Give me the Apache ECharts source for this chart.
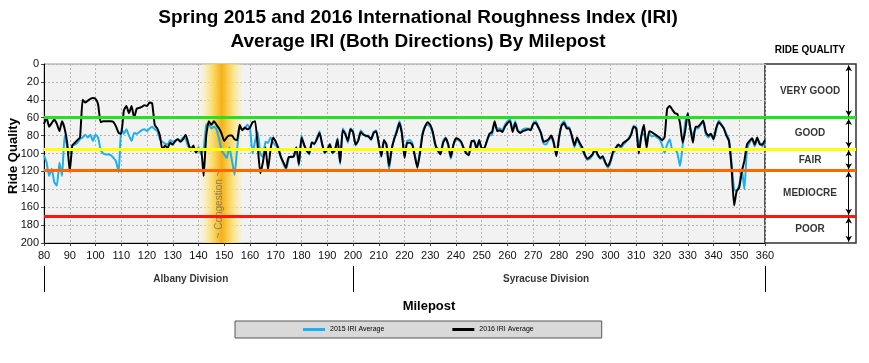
<!DOCTYPE html>
<html><head><meta charset="utf-8">
<script src="https://cdn.jsdelivr.net/npm/echarts@6/dist/echarts.min.js"></script>
<style>html,body{margin:0;padding:0;background:#fff}#c{width:869px;height:363px}</style>
</head><body><div id="c"></div>
<script>
// ---------- data ----------
const MILE_START = 80;
const MILE_END = 360;
const iri2016 = [
 67,60,70,66,62,67,75,64,72,88,
 120,91,88,85,82,40,43,41,39,38,
 39,45,65,64,64,64,64,65,70,77,
 78,52,47,55,47,60,50,49,48,46,
 47,43,44,68,72,80,96,91,94,88,
 90,86,84,87,84,79,88,97,91,99,
 96,95,125,80,64,68,64,68,72,78,
 86,82,80,80,84,85,68,74,71,73,
 71,65,64,92,122,110,93,118,95,82,
 87,94,104,110,116,104,104,103,93,112,
 82,90,97,100,88,89,84,77,89,99,
 96,90,99,96,84,110,74,78,86,73,
 76,90,86,76,79,80,81,84,77,75,
 88,103,85,90,114,95,84,76,66,78,
 105,88,88,90,103,116,100,79,70,65,
 68,76,90,97,101,88,83,90,104,90,
 83,84,87,94,100,102,86,86,95,85,
 94,94,86,78,76,64,75,74,76,70,
 66,64,76,66,75,77,75,74,73,74,
 67,66,71,77,87,86,84,80,88,103,
 82,69,66,72,72,80,91,82,88,93,
 101,106,104,101,95,101,105,103,110,114,
 108,98,94,90,92,88,86,84,79,70,
 72,100,80,68,94,75,76,78,80,82,
 85,82,50,47,51,55,56,66,88,75,
 55,72,88,70,70,67,63,76,80,78,
 84,72,65,68,72,80,86,115,158,142,
 138,120,108,90,86,83,90,82,90,90,
 85
];
const iri2015 = [
 102,110,125,117,132,136,110,125,80,92,
 100,91,90,88,84,82,79,82,79,86,
 79,82,96,100,101,101,102,105,109,121,
 72,78,73,80,86,77,78,76,74,73,
 75,72,70,73,75,84,87,89,90,85,
 87,86,84,86,82,84,92,93,95,98,
 93,101,95,68,67,72,70,73,84,97,
 101,105,93,108,124,95,71,73,72,68,
 72,100,86,76,100,104,87,88,82,88,
 91,96,104,112,118,106,103,104,95,114,
 80,91,96,101,87,90,82,75,90,100,
 95,89,100,97,83,112,72,77,88,72,
 75,91,85,74,78,81,80,85,76,74,
 90,104,86,91,118,96,83,74,64,76,
 102,86,85,88,101,114,97,77,69,68,
 70,78,92,95,98,86,82,92,106,91,
 84,85,88,95,99,101,88,85,93,86,
 96,95,86,80,79,66,72,72,74,68,
 64,62,74,64,74,76,73,72,72,73,
 66,64,70,78,89,90,85,82,90,102,
 84,67,64,70,71,82,93,84,90,96,
 102,107,106,102,96,102,106,105,111,116,
 110,100,96,91,94,90,87,83,78,69,
 71,92,80,78,90,77,81,80,82,84,
 90,99,90,84,96,95,100,114,92,66,
 55,72,80,72,72,68,65,78,82,79,
 84,74,63,67,72,78,84,110,140,142,
 135,118,140,95,88,84,92,84,88,92,
 86
];
const seriesNames = ['2015 IRI Average', '2016 IRI Average'];
const thresholds = [60, 95, 119, 170];
const bandNames = ['VERY GOOD', 'GOOD', 'FAIR', 'MEDIOCRE', 'POOR'];
const bandEdges = [0, 60, 95, 119, 170, 200];
const congestionRange = [141, 157];
const congestionLabelPoint = [148, 157];
const divisionBounds = [80, 200, 360];
const divisionNames = ['Albany Division', 'Syracuse Division'];
const divisionLabelMiles = [137, 275];

// ---------- styles ----------
const thresholdColors = ['#1fe41f', '#ffff00', '#ff6600', '#ff1414'];
const FONT = '"Liberation Sans", Arial, sans-serif';

const mileposts = [];
for (let m = MILE_START; m <= MILE_END; m++) mileposts.push(m);
const pts2015 = mileposts.map((m, i) => [m, iri2015[i]]);
const pts2016 = mileposts.map((m, i) => [m, iri2016[i]]);

const thresholdLines = thresholds.map((v, i) => ({
  yAxis: v, lineStyle: { color: thresholdColors[i], width: 3, type: 'solid' }
}));
const bandLabelData = bandNames.map((n, i) => ({ name: n, value: [49.5, (bandEdges[i] + bandEdges[i + 1]) / 2] }));
const arrowData = bandNames.map((n, i) => [
  { coord: [92, bandEdges[i] + 1.5] }, { coord: [92, bandEdges[i + 1] - 1.5] }
]);

const chart = echarts.init(document.getElementById('c'), null, { renderer: 'canvas' });
const dashed = { color: '#b4b4b4', type: [2, 2], width: 1 };

chart.setOption({
  animation: false,
  textStyle: { fontFamily: FONT },
  grid: [
    { left: 44, top: 64, width: 721, height: 179, show: true, backgroundColor: '#f2f2f2', borderColor: '#999', borderWidth: 1, containLabel: false, outerBoundsMode: 'none' },
    { left: 765, top: 64, width: 91, height: 179, show: true, backgroundColor: '#ffffff', borderColor: '#333', borderWidth: 1.5, containLabel: false, outerBoundsMode: 'none' },
    { left: 44, top: 266, width: 721, height: 26, containLabel: false, outerBoundsMode: 'none' }
  ],
  xAxis: [
    { gridIndex: 0, type: 'value', min: MILE_START, max: MILE_END, interval: 10, position: 'bottom',
      axisLine: { onZero: false, lineStyle: { color: '#000', width: 1 } },
      axisTick: { show: true, length: 3, lineStyle: { color: '#444' } },
      axisLabel: { fontSize: 11, color: '#111', margin: 7, fontFamily: FONT },
      splitLine: { show: true, lineStyle: dashed } },
    { gridIndex: 1, type: 'value', min: 0, max: 100, show: false },
    { gridIndex: 2, type: 'value', min: MILE_START, max: MILE_END, show: false }
  ],
  yAxis: [
    { gridIndex: 0, type: 'value', min: 0, max: 200, interval: 20, inverse: true,
      axisLine: { show: true, onZero: false, lineStyle: { color: '#000' } },
      axisTick: { show: true, length: 3, lineStyle: { color: '#444' } },
      axisLabel: { fontSize: 11, color: '#111', margin: 5, fontFamily: FONT },
      splitLine: { show: true, lineStyle: dashed } },
    { gridIndex: 1, type: 'value', min: 0, max: 200, inverse: true, show: false },
    { gridIndex: 2, type: 'value', min: 0, max: 1, show: false }
  ],
  legend: {
    data: seriesNames, left: 235, top: 321,
    backgroundColor: '#d9d9d9', borderColor: '#555', borderWidth: 1,
    padding: [5, 68, 5, 68], itemGap: 68, itemWidth: 22, itemHeight: 3, icon: 'rect',
    textStyle: { fontSize: 7, color: '#000', fontFamily: FONT }
  },
  graphic: [
    { type: 'text', x: 418, y: 18, style: { text: 'Spring 2015 and 2016 International Roughness Index (IRI)', font: 'bold 19px ' + FONT, fill: '#000', textAlign: 'center', textVerticalAlign: 'middle' } },
    { type: 'text', x: 418, y: 42, style: { text: 'Average IRI (Both Directions) By Milepost', font: 'bold 19px ' + FONT, fill: '#000', textAlign: 'center', textVerticalAlign: 'middle' } },
    { type: 'text', x: 810, y: 50, style: { text: 'RIDE QUALITY', font: 'bold 10px ' + FONT, fill: '#000', textAlign: 'center', textVerticalAlign: 'middle' } },
    { type: 'text', x: 429, y: 306, style: { text: 'Milepost', font: 'bold 13px ' + FONT, fill: '#000', textAlign: 'center', textVerticalAlign: 'middle' } },
    { type: 'text', x: 13, y: 156, rotation: Math.PI / 2, style: { text: 'Ride Quality', font: 'bold 13px ' + FONT, fill: '#000', textAlign: 'center', textVerticalAlign: 'middle' } }
  ],
  series: [
    { name: 'bg', type: 'line', xAxisIndex: 0, yAxisIndex: 0, data: [], z: 1, silent: true,
      markArea: { silent: true, data: [[
        { xAxis: congestionRange[0], itemStyle: { color: new echarts.graphic.LinearGradient(0, 0, 1, 0, [
          { offset: 0, color: 'rgba(255,240,170,0.2)' },
          { offset: 0.25, color: 'rgba(252,220,100,0.85)' },
          { offset: 0.5, color: 'rgba(245,176,20,1)' },
          { offset: 0.75, color: 'rgba(252,220,100,0.85)' },
          { offset: 1, color: 'rgba(255,240,170,0.2)' }]) } },
        { xAxis: congestionRange[1] }]] },
      markLine: { silent: true, symbol: 'none', label: { show: false }, data: thresholdLines }
    },
    { name: seriesNames[0], type: 'line', xAxisIndex: 0, yAxisIndex: 0, data: pts2015, z: 3,
      showSymbol: false, smooth: 0.15, color: '#1cb0ee', lineStyle: { color: '#1cb0ee', width: 2 } },
    { name: seriesNames[1], type: 'line', xAxisIndex: 0, yAxisIndex: 0, data: pts2016, z: 4,
      showSymbol: false, smooth: 0.15, color: '#000', lineStyle: { color: '#000', width: 2 } },
    { name: 'congLabel', type: 'scatter', xAxisIndex: 0, yAxisIndex: 0, z: 2, silent: true,
      symbolSize: 1, itemStyle: { color: 'rgba(0,0,0,0)' },
      data: [congestionLabelPoint],
      label: { show: true, position: 'inside', rotate: 90, formatter: '~ Congestion ~', fontSize: 10, color: '#6e6e6e', fontFamily: FONT } },
    { name: 'panel', type: 'scatter', xAxisIndex: 1, yAxisIndex: 1, z: 3, silent: true,
      symbolSize: 1, itemStyle: { color: 'rgba(0,0,0,0)' },
      data: bandLabelData,
      label: { show: true, position: 'inside', formatter: '{b}', fontSize: 10, fontWeight: 'bold', color: '#000', fontFamily: FONT },
      markLine: { silent: true, symbol: 'none', label: { show: false }, data: thresholdLines.concat([]) }
    },
    { name: 'arrows', type: 'line', xAxisIndex: 1, yAxisIndex: 1, data: [], z: 4, silent: true,
      markLine: { silent: true, symbol: ['arrow', 'arrow'], symbolSize: [5, 6], label: { show: false },
        lineStyle: { color: '#000', width: 1, type: 'solid' }, data: arrowData } },
    { name: 'divisions', type: 'scatter', xAxisIndex: 2, yAxisIndex: 2, z: 3, silent: true,
      symbolSize: 1, itemStyle: { color: 'rgba(0,0,0,0)' },
      data: divisionNames.map((n, i) => ({ name: n, value: [divisionLabelMiles[i], 0.5] })),
      label: { show: true, position: 'inside', formatter: '{b}', fontSize: 10, fontWeight: 'bold', color: '#000', fontFamily: FONT },
      markLine: { silent: true, symbol: 'none', label: { show: false },
        lineStyle: { color: '#000', width: 1, type: 'solid' },
        data: divisionBounds.map(v => ({ xAxis: v })) } }
  ]
});
</script></body></html>
